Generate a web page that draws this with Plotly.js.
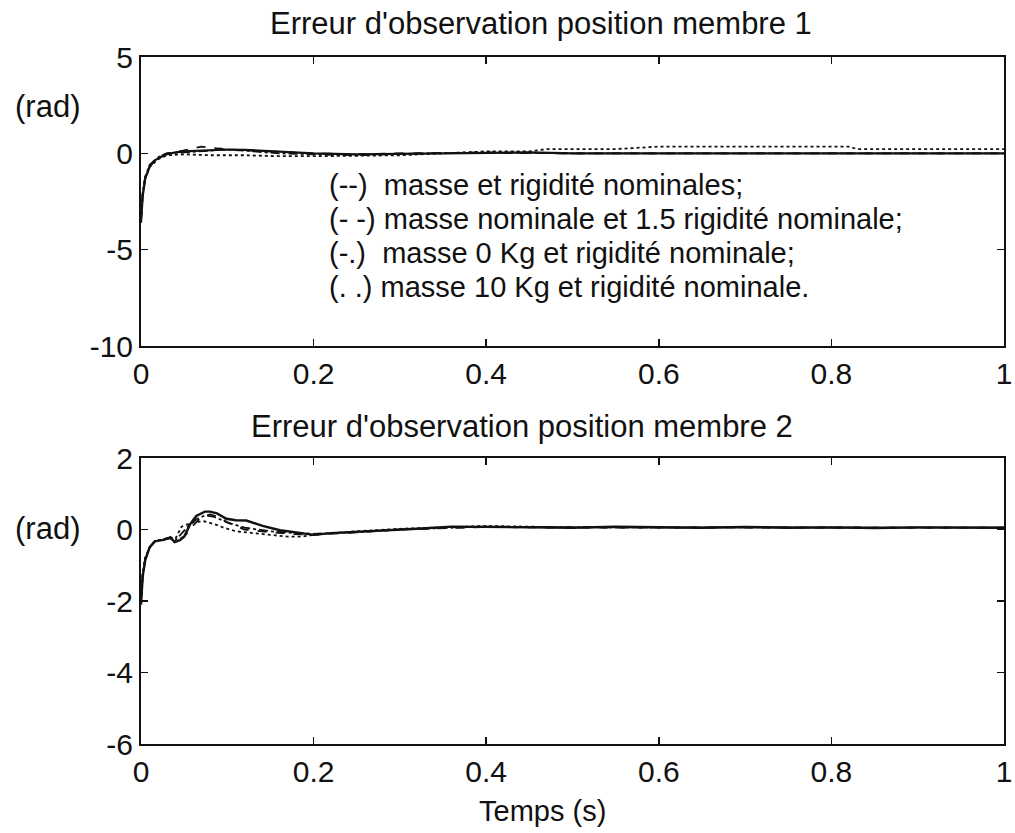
<!DOCTYPE html>
<html>
<head>
<meta charset="utf-8">
<script src="https://cdn.plot.ly/plotly-3.0.1.min.js"></script>
<style>html,body{margin:0;padding:0;background:#fff}#chart{width:1015px;height:833px}</style>
</head>
<body>
<div id="chart"></div>
<script>
// ---------- data ----------
// Top subplot: position error, member 1
const t1Nom  = [0, 0.002, 0.005, 0.01, 0.015, 0.02, 0.03, 0.04, 0.05, 0.06, 0.08, 0.1, 0.12, 0.15, 0.18, 0.2, 0.25, 0.3, 0.35, 0.4, 0.45, 0.5, 0.6, 0.7, 0.8, 0.9, 1.0];
const v1Nom  = [-3.6, -2.2, -1.3, -0.7, -0.4, -0.25, -0.05, 0.05, 0.1, 0.12, 0.15, 0.2, 0.18, 0.12, 0.05, 0.0, -0.05, -0.02, 0.0, 0.02, 0.05, 0.0, 0.0, 0.0, 0.0, 0.0, 0.0];
const t1Rig  = [0, 0.002, 0.005, 0.01, 0.02, 0.03, 0.05, 0.07, 0.09, 0.12, 0.15, 0.2, 0.25, 0.3, 0.4, 0.5, 0.7, 1.0];
const v1Rig  = [-3.5, -2.1, -1.2, -0.65, -0.2, 0.0, 0.15, 0.35, 0.25, 0.15, 0.1, 0.0, -0.05, 0.0, 0.02, 0.0, 0.0, 0.0];
const t1M0   = [0, 0.002, 0.005, 0.01, 0.02, 0.03, 0.05, 0.07, 0.1, 0.13, 0.16, 0.2, 0.25, 0.3, 0.4, 0.5, 0.7, 1.0];
const v1M0   = [-3.4, -2.0, -1.2, -0.6, -0.2, 0.0, 0.05, 0.1, 0.2, 0.1, 0.0, -0.05, -0.1, -0.02, 0.05, 0.0, 0.0, 0.0];
const t1M10  = [0, 0.002, 0.005, 0.01, 0.02, 0.03, 0.05, 0.08, 0.12, 0.16, 0.2, 0.25, 0.3, 0.35, 0.4, 0.45, 0.47, 0.55, 0.6, 0.7, 0.82, 0.83, 0.9, 1.0];
const v1M10  = [-3.5, -2.1, -1.3, -0.7, -0.3, -0.1, -0.05, -0.1, -0.1, -0.15, -0.15, -0.12, -0.1, 0.0, 0.1, 0.1, 0.22, 0.22, 0.35, 0.35, 0.35, 0.22, 0.22, 0.22];

// Bottom subplot: position error, member 2
const t2Nom  = [0, 0.002, 0.005, 0.01, 0.016, 0.026, 0.034, 0.039, 0.045, 0.05, 0.057, 0.064, 0.074, 0.08, 0.088, 0.099, 0.11, 0.122, 0.141, 0.161, 0.18, 0.2, 0.22, 0.24, 0.28, 0.32, 0.36, 0.4, 0.45, 0.5, 0.55, 0.6, 0.65, 0.7, 0.75, 0.8, 0.85, 0.9, 0.95, 1.0];
const v2Nom  = [-2.1, -1.3, -0.85, -0.5, -0.33, -0.29, -0.22, -0.35, -0.3, -0.2, 0.15, 0.38, 0.5, 0.5, 0.45, 0.3, 0.26, 0.25, 0.1, -0.02, -0.08, -0.15, -0.1, -0.08, -0.03, 0.02, 0.08, 0.07, 0.06, 0.05, 0.08, 0.06, 0.05, 0.07, 0.05, 0.06, 0.04, 0.06, 0.05, 0.05];
const t2Rig  = [0, 0.002, 0.005, 0.01, 0.016, 0.026, 0.034, 0.04, 0.05, 0.06, 0.07, 0.08, 0.09, 0.1, 0.12, 0.14, 0.17, 0.2, 0.25, 0.3, 0.4, 0.5, 0.6, 0.7, 0.8, 0.9, 1.0];
const v2Rig  = [-2.0, -1.25, -0.8, -0.5, -0.33, -0.28, -0.25, -0.32, -0.2, 0.1, 0.35, 0.42, 0.35, 0.2, 0.0, -0.05, -0.12, -0.15, -0.08, 0.0, 0.07, 0.05, 0.06, 0.05, 0.06, 0.05, 0.05];
const t2M0   = [0, 0.002, 0.005, 0.01, 0.016, 0.026, 0.034, 0.04, 0.047, 0.055, 0.065, 0.075, 0.085, 0.1, 0.12, 0.15, 0.18, 0.2, 0.25, 0.3, 0.4, 0.5, 0.6, 0.7, 0.8, 0.9, 1.0];
const v2M0   = [-2.0, -1.25, -0.8, -0.5, -0.33, -0.28, -0.22, -0.3, -0.1, 0.1, 0.3, 0.4, 0.35, 0.2, 0.05, -0.05, -0.1, -0.12, -0.08, 0.0, 0.08, 0.06, 0.05, 0.06, 0.05, 0.06, 0.05];
const t2M10  = [0, 0.002, 0.005, 0.01, 0.016, 0.026, 0.034, 0.04, 0.047, 0.06, 0.073, 0.085, 0.096, 0.11, 0.132, 0.145, 0.17, 0.185, 0.2, 0.25, 0.3, 0.4, 0.5, 0.6, 0.7, 0.8, 0.9, 1.0];
const v2M10  = [-2.0, -1.25, -0.8, -0.5, -0.33, -0.28, -0.22, -0.25, 0.08, 0.2, 0.23, 0.15, 0.05, -0.05, -0.1, -0.15, -0.2, -0.2, -0.15, -0.05, 0.02, 0.1, 0.06, 0.05, 0.07, 0.05, 0.06, 0.05];

const xTicks   = [0, 0.2, 0.4, 0.6, 0.8, 1];
const xLabels  = ['0', '0.2', '0.4', '0.6', '0.8', '1'];
const y1Ticks  = [-10, -5, 0, 5];
const y1Labels = ['-10', '-5', '0', '5'];
const y2Ticks  = [-6, -4, -2, 0, 2];
const y2Labels = ['-6', '-4', '-2', '0', '2'];

const title1 = "Erreur d'observation position membre 1";
const title2 = "Erreur d'observation position membre 2";
const yUnit  = "(rad)";
const xTitle = "Temps (s)";
const legendLines = [
  "(--)  masse et rigidité nominales;",
  "(- -) masse nominale et 1.5 rigidité nominale;",
  "(-.)  masse 0 Kg et rigidité nominale;",
  "(. .) masse 10 Kg et rigidité nominale."
];

// ---------- layout helpers ----------
const W = 1015, H = 833;
const px = x => x / W;
const py = y => 1 - y / H;
const FONT = 'Liberation Sans, Arial, Helvetica, sans-serif';

function tr(x, y, dash, width, ax) {
  return {x: x, y: y, type: 'scatter', mode: 'lines', xaxis: ax[0], yaxis: ax[1],
          line: {color: '#111', width: width, dash: dash}, showlegend: false, hoverinfo: 'skip'};
}

const data = [
  tr(t1M10, v1M10, 'dot', 1.8, ['x', 'y']),
  tr(t1M0, v1M0, 'dashdot', 1.8, ['x', 'y']),
  tr(t1Rig, v1Rig, 'dash', 1.8, ['x', 'y']),
  tr(t1Nom, v1Nom, 'solid', 2.2, ['x', 'y']),
  tr(t2M10, v2M10, 'dot', 1.8, ['x2', 'y2']),
  tr(t2M0, v2M0, 'dashdot', 1.8, ['x2', 'y2']),
  tr(t2Rig, v2Rig, 'dash', 1.8, ['x2', 'y2']),
  tr(t2Nom, v2Nom, 'solid', 2.4, ['x2', 'y2'])
];

function axisBase(extra) {
  return Object.assign({
    showline: true, linecolor: '#111', linewidth: 2, mirror: 'ticks',
    ticks: 'inside', ticklen: 7, tickwidth: 1.5, tickcolor: '#111',
    showgrid: false, zeroline: false, automargin: false,
    tickfont: {family: FONT, size: 30, color: '#111'}
  }, extra);
}

const layout = {
  width: W, height: H,
  margin: {l: 0, r: 0, t: 0, b: 0},
  paper_bgcolor: '#fff', plot_bgcolor: '#fff',
  font: {family: FONT, color: '#111'},
  xaxis:  axisBase({domain: [px(141), px(1004)], range: [0, 1], tickvals: xTicks, ticktext: xLabels, anchor: 'y'}),
  yaxis:  axisBase({domain: [py(346), py(57)], range: [-10, 5], tickvals: y1Ticks, ticktext: y1Labels, anchor: 'x'}),
  xaxis2: axisBase({domain: [px(141), px(1004)], range: [0, 1], tickvals: xTicks, ticktext: xLabels, anchor: 'y2'}),
  yaxis2: axisBase({domain: [py(744), py(458)], range: [-6, 2], tickvals: y2Ticks, ticktext: y2Labels, anchor: 'x2'}),
  annotations: [
    {text: title1, x: px(541), y: py(24), xref: 'paper', yref: 'paper', showarrow: false, xanchor: 'center', yanchor: 'middle', font: {size: 31, family: FONT}},
    {text: title2, x: px(522), y: py(426), xref: 'paper', yref: 'paper', showarrow: false, xanchor: 'center', yanchor: 'middle', font: {size: 31, family: FONT}},
    {text: yUnit, x: px(47), y: py(106), xref: 'paper', yref: 'paper', showarrow: false, xanchor: 'center', yanchor: 'middle', font: {size: 31, family: FONT}},
    {text: yUnit, x: px(47), y: py(528), xref: 'paper', yref: 'paper', showarrow: false, xanchor: 'center', yanchor: 'middle', font: {size: 31, family: FONT}},
    {text: xTitle, x: px(542), y: py(811), xref: 'paper', yref: 'paper', showarrow: false, xanchor: 'center', yanchor: 'middle', font: {size: 29, family: FONT}}
  ].concat(legendLines.map((s, i) => ({
    text: s, x: px(327), y: py(185 + i * 34), xref: 'paper', yref: 'paper', showarrow: false,
    xanchor: 'left', yanchor: 'middle', align: 'left', font: {size: 29, family: FONT}
  })))
};

Plotly.newPlot('chart', data, layout, {staticPlot: true, displayModeBar: false});
</script>
</body>
</html>
